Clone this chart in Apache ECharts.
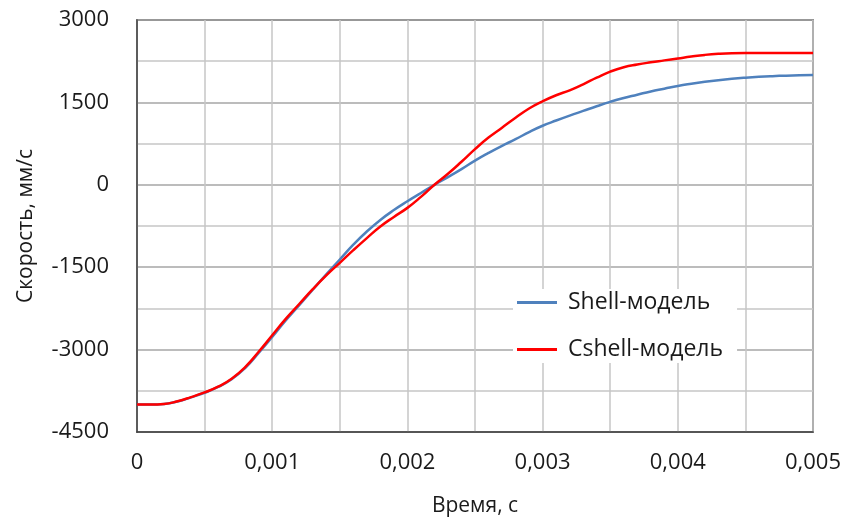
<!DOCTYPE html>
<html>
<head>
<meta charset="utf-8">
<script src="https://cdn.jsdelivr.net/npm/echarts@6/dist/echarts.min.js"></script>
<style>html,body{margin:0;padding:0;background:#fff}#c{width:855px;height:522px}</style>
</head>
<body>
<div id="c"></div>
<script>
var times = [0, 0.0001, 0.0002, 0.0003, 0.0004, 0.0005, 0.0006, 0.0007, 0.0008, 0.0009,
             0.001, 0.0011, 0.0012, 0.0013, 0.0014, 0.0015, 0.0016, 0.0017, 0.0018, 0.0019,
             0.002, 0.0021, 0.0022, 0.0023, 0.0024, 0.0025, 0.0026, 0.0027, 0.0028, 0.0029,
             0.003, 0.0031, 0.0032, 0.0033, 0.0034, 0.0035, 0.0036, 0.0037, 0.0038, 0.0039,
             0.004, 0.0041, 0.0042, 0.0043, 0.0044, 0.0045, 0.0046, 0.0047, 0.0048, 0.0049, 0.005];
var shellValues = [-4000, -4000, -3990, -3945, -3870, -3785, -3680, -3540, -3335, -3060,
                   -2770, -2470, -2190, -1910, -1630, -1360, -1090, -850, -640, -460,
                   -300, -150, 0, 140, 285, 440, 580, 710, 830, 960,
                   1075, 1170, 1260, 1345, 1430, 1510, 1580, 1640, 1700, 1750,
                   1800, 1840, 1875, 1905, 1930, 1950, 1966, 1978, 1987, 1993, 1997];
var cshellValues = [-4000, -4000, -3990, -3940, -3865, -3780, -3675, -3530, -3320, -3040,
                    -2740, -2440, -2170, -1900, -1650, -1420, -1190, -970, -760, -585,
                    -420, -220, 0, 200, 420, 650, 860, 1040, 1220, 1390,
                    1520, 1630, 1720, 1830, 1950, 2060, 2140, 2190, 2230, 2265,
                    2300, 2335, 2365, 2385, 2395, 2397, 2397, 2397, 2397, 2397, 2397];
var seriesNames = ['Shell-модель', 'Cshell-модель'];
var xTitle = 'Время, с';
var yTitle = 'Скорость, мм/с';

function pairs(vals){ return times.map(function(t,i){ return [t, vals[i]]; }); }
var FONT = 'Open Sans';
var chart = echarts.init(document.getElementById('c'));
chart.setOption({
  animation: false,
  textStyle: { fontFamily: FONT },
  grid: { left: 137, right: 42, top: 20, bottom: 89, show: true, borderColor: '#404040', borderWidth: 1.5, backgroundColor: 'transparent' },
  legend: {
    orient: 'vertical', left: 513, top: 289, itemWidth: 40, itemHeight: 3, itemGap: 24,
    icon: 'rect', backgroundColor: '#fff', padding: [2, 14, 2, 4],
    textStyle: { fontFamily: FONT, fontSize: 23, color: '#1a1a1a', padding: [0, 0, 0, 6] },
    data: seriesNames
  },
  xAxis: {
    type: 'value', min: 0, max: 0.005, interval: 0.001,
    name: xTitle, nameLocation: 'middle', nameGap: 64,
    nameTextStyle: { fontFamily: FONT, fontSize: 21, color: '#1a1a1a' },
    axisLine: { show: true, onZero: false, lineStyle: { color: '#404040', width: 1.5 } },
    axisTick: { show: false },
    axisLabel: { fontSize: 22, color: '#1a1a1a', margin: 20, formatter: function(v){ return v === 0 ? '0' : v.toFixed(3).replace('.', ','); } },
    splitLine: { show: true, lineStyle: { color: '#c6c6c6', width: 1.5 } },
    minorTick: { show: false, splitNumber: 2 },
    minorSplitLine: { show: true, lineStyle: { color: '#c6c6c6', width: 1.5 } }
  },
  yAxis: {
    type: 'value', min: -4500, max: 3000, interval: 1500,
    name: yTitle, nameLocation: 'middle', nameGap: 100, nameRotate: 90,
    nameTextStyle: { fontFamily: FONT, fontSize: 21, color: '#1a1a1a' },
    axisLine: { show: true, lineStyle: { color: '#404040', width: 1.5 } },
    axisTick: { show: false },
    axisLabel: { fontSize: 22, color: '#1a1a1a', margin: 28, formatter: function(v){ return String(v); } },
    splitLine: { show: true, lineStyle: { color: '#a6a6a6', width: 1.5 } },
    minorTick: { show: false, splitNumber: 2 },
    minorSplitLine: { show: true, lineStyle: { color: '#c6c6c6', width: 1.5 } }
  },
  series: [
    { name: seriesNames[0], type: 'line', data: pairs(shellValues), smooth: 0.5, showSymbol: false, symbol: 'none',
      lineStyle: { color: '#4f81bd', width: 2.5 }, itemStyle: { color: '#4f81bd' } },
    { name: seriesNames[1], type: 'line', data: pairs(cshellValues), smooth: 0.5, showSymbol: false, symbol: 'none',
      lineStyle: { color: '#ff0000', width: 2.5 }, itemStyle: { color: '#ff0000' } }
  ]
});
</script>
</body>
</html>
